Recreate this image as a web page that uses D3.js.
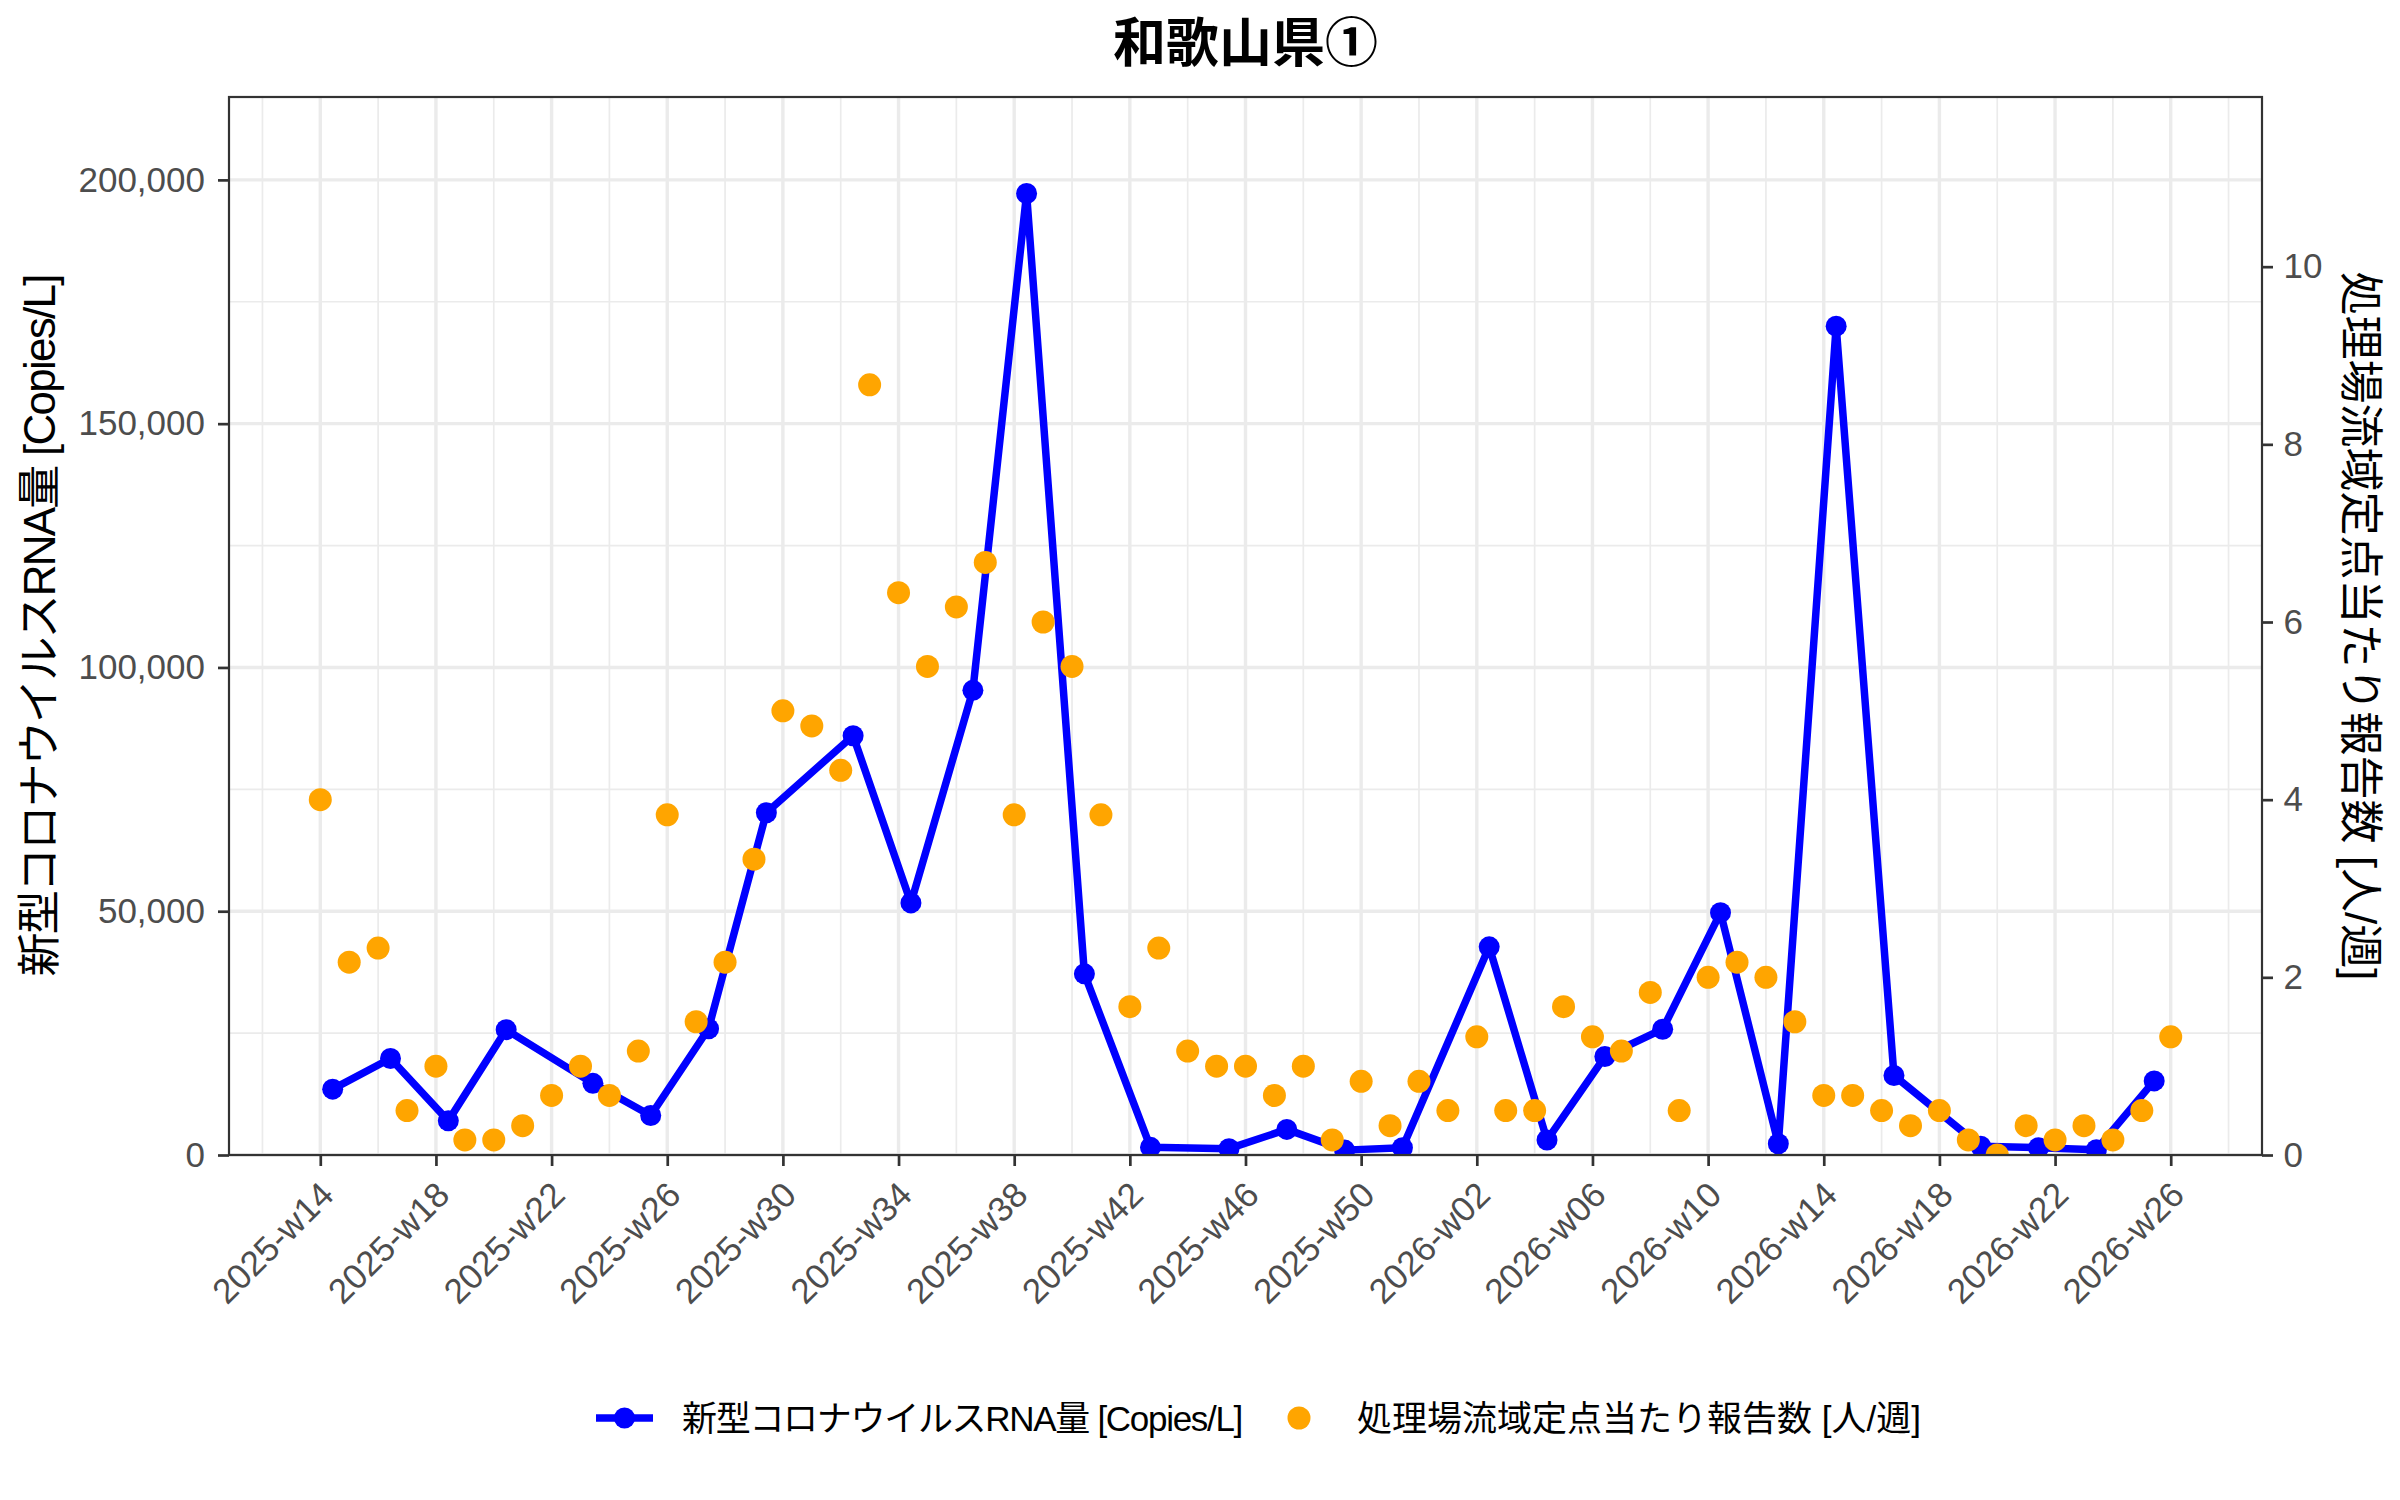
<!DOCTYPE html>
<html lang="ja">
<head>
    <meta charset="UTF-8">
    <title>和歌山県①</title>
    <style>
        html, body {
            margin: 0;
            padding: 0;
            background: #ffffff;
        }

        svg {
            display: block;
            font-family: "Liberation Sans", "Noto Sans CJK JP", sans-serif;
        }
    </style>
</head>
<body>
<svg id="chart"></svg>
<script src="https://cdnjs.cloudflare.com/ajax/libs/d3/7.8.5/d3.min.js"></script>
<script>
    "use strict"

    // 処理場流域定点当たり報告数 [人/週] (週ごと)
    const reportWeeks = [
        "2025-w14", "2025-w15", "2025-w16", "2025-w17", "2025-w18", "2025-w19", "2025-w20", "2025-w21",
        "2025-w22", "2025-w23", "2025-w24", "2025-w25", "2025-w26", "2025-w27", "2025-w28", "2025-w29",
        "2025-w30", "2025-w31", "2025-w32", "2025-w33", "2025-w34", "2025-w35", "2025-w36", "2025-w37",
        "2025-w38", "2025-w39", "2025-w40", "2025-w41", "2025-w42", "2025-w43", "2025-w44", "2025-w45",
        "2025-w46", "2025-w47", "2025-w48", "2025-w49", "2025-w50", "2025-w51", "2025-w52", "2026-w01",
        "2026-w02", "2026-w03", "2026-w04", "2026-w05", "2026-w06", "2026-w07", "2026-w08", "2026-w09",
        "2026-w10", "2026-w11", "2026-w12", "2026-w13", "2026-w14", "2026-w15", "2026-w16", "2026-w17",
        "2026-w18", "2026-w19", "2026-w20", "2026-w21", "2026-w22", "2026-w23", "2026-w24", "2026-w25",
        "2026-w26"
    ];
    const reportValues = [
        4.0, 2.17, 2.33, 0.5, 1.0, 0.17, 0.17, 0.33,
        0.67, 1.0, 0.67, 1.17, 3.83, 1.5, 2.17, 3.33,
        5.0, 4.83, 4.33, 8.67, 6.33, 5.5, 6.17, 6.67,
        3.83, 6.0, 5.5, 3.83, 1.67, 2.33, 1.17, 1.0,
        1.0, 0.67, 1.0, 0.17, 0.83, 0.33, 0.83, 0.5,
        1.33, 0.5, 0.5, 1.67, 1.33, 1.17, 1.83, 0.5,
        2.0, 2.17, 2.0, 1.5, 0.67, 0.67, 0.5, 0.33,
        0.5, 0.17, 0.0, 0.33, 0.17, 0.33, 0.17, 0.5,
        1.33
    ];

    // 新型コロナウイルスRNA量 [Copies/L] (採水日)
    const rnaDates = [
        "2025-04-03", "2025-04-17", "2025-05-01", "2025-05-15", "2025-06-05", "2025-06-19",
        "2025-07-03", "2025-07-17", "2025-08-07", "2025-08-21", "2025-09-05", "2025-09-18",
        "2025-10-02", "2025-10-18", "2025-11-06", "2025-11-20", "2025-12-04", "2025-12-18",
        "2026-01-08", "2026-01-22", "2026-02-05", "2026-02-19", "2026-03-05", "2026-03-19",
        "2026-04-02", "2026-04-16", "2026-05-07", "2026-05-21", "2026-06-04", "2026-06-18"
    ];
    const rnaValues = [
        13500, 19800, 7000, 25700, 14700, 8100,
        25900, 70200, 86000, 51700, 95300, 197200,
        37150, 1570, 1300, 5250, 1000, 1500,
        42700, 3070, 20200, 25800, 49700, 2300,
        170000, 16300, 1800, 1500, 1100, 15200
    ];

    const xTickLabels = [
        "2025-w14", "2025-w18", "2025-w22", "2025-w26", "2025-w30", "2025-w34", "2025-w38", "2025-w42",
        "2025-w46", "2025-w50", "2026-w02", "2026-w06", "2026-w10", "2026-w14", "2026-w18", "2026-w22",
        "2026-w26"
    ];
    const yTicks = [0, 50000, 100000, 150000, 200000];
    const yMinorTicks = [25000, 75000, 125000, 175000];
    const y2Ticks = [0, 2, 4, 6, 8, 10];

    const title = "和歌山県①";
    const yTitle = "新型コロナウイルスRNA量 [Copies/L]";
    const y2Title = "処理場流域定点当たり報告数 [人/週]";

    /* ISO週 "2025-w14" -> その週の月曜日 (UTC) */
    function weekMonday(label) {
        const year = +label.slice(0, 4);
        const week = +label.slice(6);
        const jan4 = new Date(Date.UTC(year, 0, 4));
        const shift = (jan4.getUTCDay() + 6) % 7;
        return new Date(Date.UTC(year, 0, 4 - shift + (week - 1) * 7));
    }

    const DAY = 24 * 3600 * 1000;
    const W = 2400, H = 1500;
    const panel = {left: 229, top: 97, right: 2262, bottom: 1155};

    const svg = d3.select("#chart")
        .attr("width", W)
        .attr("height", H);

    svg.append("rect")
        .attr("width", W)
        .attr("height", H)
        .attr("fill", "#ffffff");

    const reports = reportWeeks.map((w, i) => ({date: weekMonday(w), value: reportValues[i]}));
    const rna = rnaDates.map((d, i) => ({date: new Date(d), value: rnaValues[i]}));

    const pad = 22.1 * DAY;
    const x = d3.scaleUtc()
        .domain([new Date(reports[0].date - pad), new Date(+reports[reports.length - 1].date + pad)])
        .range([panel.left, panel.right]);

    const y = d3.scaleLinear()
        .domain([0, 217000])
        .range([panel.bottom, panel.top]);

    const y2 = d3.scaleLinear()
        .domain([0, 11.91])
        .range([panel.bottom, panel.top]);

    const majorDates = xTickLabels.map(weekMonday);
    const minorDates = [new Date(majorDates[0] - 14 * DAY)]
        .concat(majorDates.map(d => new Date(+d + 14 * DAY)));

    /* grid */
    const grid = svg.append("g");
    grid.selectAll(".vminor").data(minorDates).enter().append("line")
        .attr("x1", d => x(d)).attr("x2", d => x(d))
        .attr("y1", panel.top).attr("y2", panel.bottom)
        .attr("stroke", "#ebebeb").attr("stroke-width", 1.7);
    grid.selectAll(".hminor").data(yMinorTicks).enter().append("line")
        .attr("x1", panel.left).attr("x2", panel.right)
        .attr("y1", d => y(d)).attr("y2", d => y(d))
        .attr("stroke", "#ebebeb").attr("stroke-width", 1.7);
    grid.selectAll(".vmajor").data(majorDates).enter().append("line")
        .attr("x1", d => x(d)).attr("x2", d => x(d))
        .attr("y1", panel.top).attr("y2", panel.bottom)
        .attr("stroke", "#ebebeb").attr("stroke-width", 3.4);
    grid.selectAll(".hmajor").data(yTicks).enter().append("line")
        .attr("x1", panel.left).attr("x2", panel.right)
        .attr("y1", d => y(d)).attr("y2", d => y(d))
        .attr("stroke", "#ebebeb").attr("stroke-width", 3.4);

    svg.append("clipPath")
        .attr("id", "clip")
        .append("rect")
        .attr("x", panel.left)
        .attr("y", panel.top)
        .attr("width", panel.right - panel.left)
        .attr("height", panel.bottom - panel.top);

    const plot = svg.append("g").attr("clip-path", "url(#clip)");

    const line = d3.line()
        .x(d => x(d.date))
        .y(d => y(d.value));

    plot.append("path")
        .datum(rna)
        .attr("d", line)
        .attr("fill", "none")
        .attr("stroke", "#0000ff")
        .attr("stroke-width", 7.5)
        .attr("stroke-linejoin", "round");

    plot.selectAll(".rna").data(rna).enter().append("circle")
        .attr("cx", d => x(d.date))
        .attr("cy", d => y(d.value))
        .attr("r", 10.5)
        .attr("fill", "#0000ff");

    plot.selectAll(".rep").data(reports).enter().append("circle")
        .attr("cx", d => x(d.date))
        .attr("cy", d => y2(d.value))
        .attr("r", 11.5)
        .attr("fill", "#ffa500");

    /* panel border */
    svg.append("rect")
        .attr("x", panel.left)
        .attr("y", panel.top)
        .attr("width", panel.right - panel.left)
        .attr("height", panel.bottom - panel.top)
        .attr("fill", "none")
        .attr("stroke", "#333333")
        .attr("stroke-width", 2.2);

    /* axes */
    function styleAxis(g) {
        g.select(".domain").remove();
        g.selectAll(".tick line").attr("stroke", "#333333").attr("stroke-width", 2.7);
        g.selectAll(".tick text")
            .attr("fill", "#4d4d4d")
            .attr("font-size", 35)
            .attr("font-family", "'Liberation Sans', Arial, sans-serif");
    }

    svg.append("g")
        .attr("transform", `translate(${panel.left},0)`)
        .call(d3.axisLeft(y).tickValues(yTicks).tickFormat(d3.format(",")).tickSize(11).tickPadding(13))
        .call(styleAxis);

    svg.append("g")
        .attr("transform", `translate(${panel.right},0)`)
        .call(d3.axisRight(y2).tickValues(y2Ticks).tickSize(11).tickPadding(10.5))
        .call(styleAxis);

    const xAxis = svg.append("g")
        .attr("transform", `translate(0,${panel.bottom})`)
        .call(d3.axisBottom(x).tickValues(majorDates).tickFormat((d, i) => xTickLabels[i]).tickSize(11))
        .call(styleAxis);

    xAxis.selectAll(".tick text")
        .attr("x", 0)
        .attr("y", 0)
        .attr("dy", null)
        .attr("text-anchor", "end")
        .attr("transform", "translate(15,42) rotate(-45)");

    /* titles */
    svg.append("text")
        .attr("x", (panel.left + panel.right) / 2)
        .attr("y", 43.5)
        .attr("text-anchor", "middle")
        .attr("dominant-baseline", "central")
        .attr("font-size", 53)
        .attr("font-weight", "bold")
        .text(title);

    svg.append("text")
        .attr("transform", `translate(39,${(panel.top + panel.bottom) / 2}) rotate(-90)`)
        .attr("text-anchor", "middle")
        .attr("dominant-baseline", "central")
        .attr("font-size", 44)
        .attr("letter-spacing", -1.75)
        .text(yTitle);

    svg.append("text")
        .attr("transform", `translate(2360,${(panel.top + panel.bottom) / 2}) rotate(90)`)
        .attr("text-anchor", "middle")
        .attr("dominant-baseline", "central")
        .attr("font-size", 44)
        .text(y2Title);

    /* legend */
    const legend = svg.append("g").attr("transform", "translate(0,1418)");

    legend.append("line")
        .attr("x1", 596).attr("x2", 653)
        .attr("y1", 0).attr("y2", 0)
        .attr("stroke", "#0000ff")
        .attr("stroke-width", 7.5);
    legend.append("circle")
        .attr("cx", 624.5).attr("cy", 0).attr("r", 10.5)
        .attr("fill", "#0000ff");
    legend.append("text")
        .attr("x", 682).attr("y", 0)
        .attr("dominant-baseline", "central")
        .attr("font-size", 35)
        .attr("letter-spacing", -1.3)
        .text(yTitle);

    legend.append("circle")
        .attr("cx", 1299).attr("cy", 0).attr("r", 11.5)
        .attr("fill", "#ffa500");
    legend.append("text")
        .attr("x", 1357).attr("y", 0)
        .attr("dominant-baseline", "central")
        .attr("font-size", 35)
        .text(y2Title);
</script>
</body>
</html>
